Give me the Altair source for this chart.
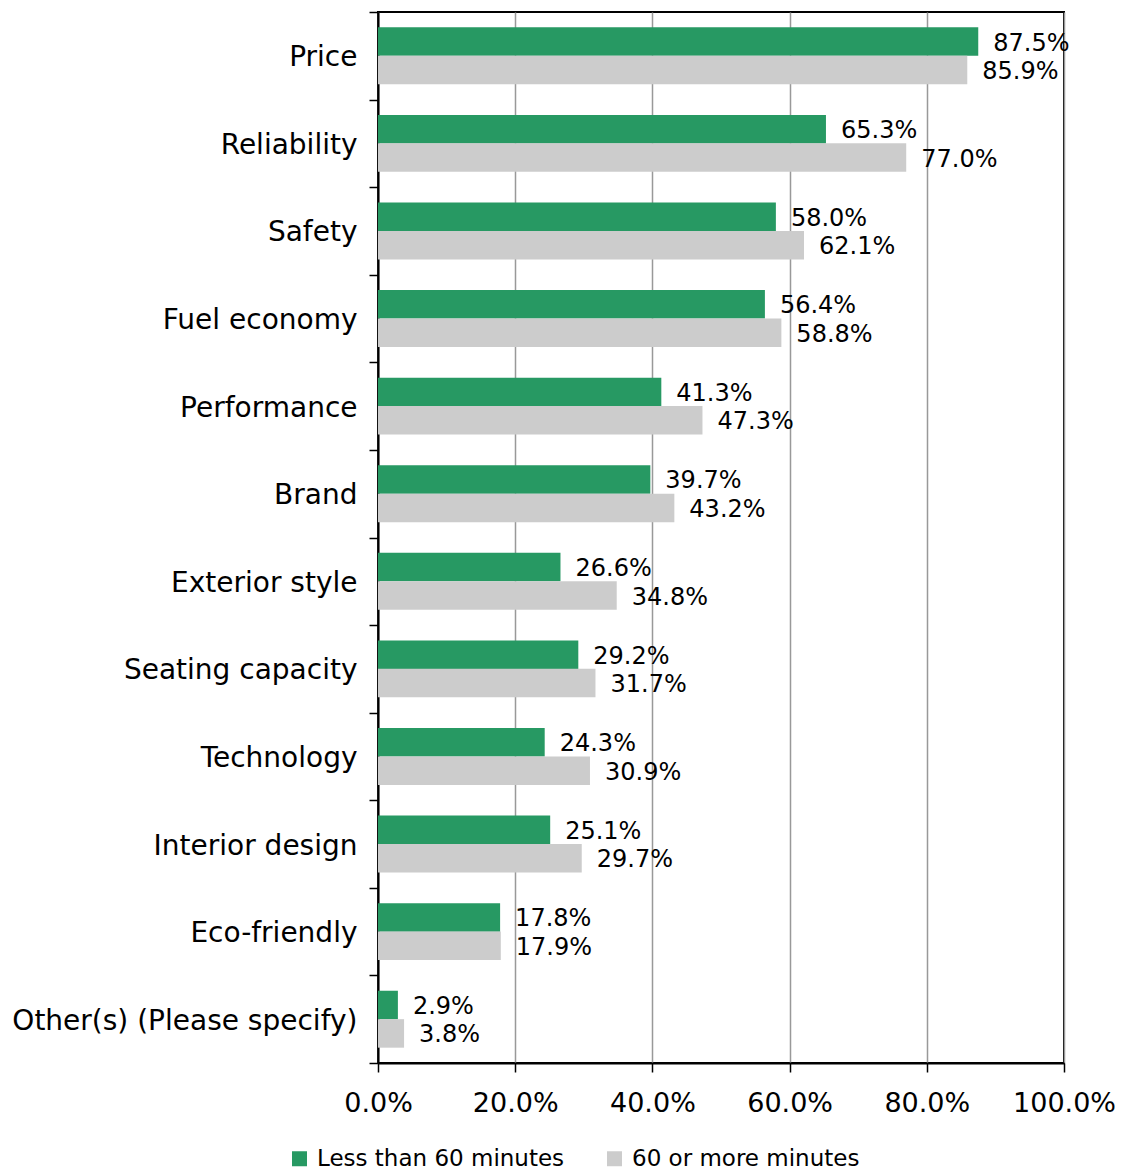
import altair as alt
import pandas as pd

categories = ["Price", "Reliability", "Safety", "Fuel economy", "Performance", "Brand",
              "Exterior style", "Seating capacity", "Technology", "Interior design",
              "Eco-friendly", "Other(s) (Please specify)"]
less_60 = [87.5, 65.3, 58.0, 56.4, 41.3, 39.7, 26.6, 29.2, 24.3, 25.1, 17.8, 2.9]
more_60 = [85.9, 77.0, 62.1, 58.8, 47.3, 43.2, 34.8, 31.7, 30.9, 29.7, 17.9, 3.8]
series = ["Less than 60 minutes", "60 or more minutes"]
colors = ["#279963", "#cccccc"]
x_ticks = [0, 20, 40, 60, 80, 100]

rows = []
for c, a, b in zip(categories, less_60, more_60):
    rows.append({"category": c, "series": series[0], "value": a})
    rows.append({"category": c, "series": series[1], "value": b})
df = pd.DataFrame(rows)
df["label"] = df["value"].map(lambda v: f"{v:.1f}%")

FONT = "DejaVu Sans"

y = alt.Y("category:N", sort=categories, title=None,
          scale=alt.Scale(paddingInner=0, paddingOuter=0),
          axis=alt.Axis(tickBand="extent", labelFontSize=28, labelFont=FONT,
                        labelColor="black", tickColor="black", tickSize=9, tickWidth=1.5,
                        domainColor="black", domainWidth=2, labelPadding=12, grid=False,
                        labelLimit=500, labelOffset=2))
yoff = alt.YOffset("series:N", sort=series,
                   scale=alt.Scale(paddingOuter=0.54, paddingInner=0))
x = alt.X("value:Q", title=None, scale=alt.Scale(domain=[0, 100]),
          axis=alt.Axis(values=x_ticks, labelExpr="format(datum.value, '.1f') + '%'",
                        labelFontSize=27, labelFont=FONT, labelColor="black",
                        tickColor="black", tickSize=9, tickWidth=1.5,
                        domainColor="black", domainWidth=2, labelPadding=18,
                        grid=True, gridColor="#999999", gridWidth=1.5,
                        labelFlush=False))
color = alt.Color("series:N", sort=series,
                  scale=alt.Scale(domain=series, range=colors),
                  legend=alt.Legend(title=None, orient="none", direction="horizontal",
                                    legendX=-90, legendY=1135, symbolType="square",
                                    symbolSize=225, symbolStrokeWidth=0,
                                    labelFontSize=23, labelFont=FONT, labelColor="black",
                                    columnPadding=38, symbolOffset=0, labelOffset=6,
                                    padding=0, labelLimit=400))

bars = alt.Chart(df).mark_bar(size=28.5).encode(y=y, yOffset=yoff, x=x, color=color)
text = alt.Chart(df).mark_text(align="left", baseline="middle", dx=15, dy=2, fontSize=24,
                               font=FONT, color="black").encode(
    y=alt.Y("category:N", sort=categories), yOffset=alt.YOffset("series:N", sort=series),
    x="value:Q", text="label:N")

chart = (bars + text).properties(
    width=686, height=1051,
    autosize=alt.AutoSizeParams(type="none"),
    padding={"left": 370, "top": 4, "right": 51, "bottom": 110},
).configure_view(stroke="black", strokeWidth=2)

chart.save("out.html", embed_options={"renderer": "svg", "actions": False})
